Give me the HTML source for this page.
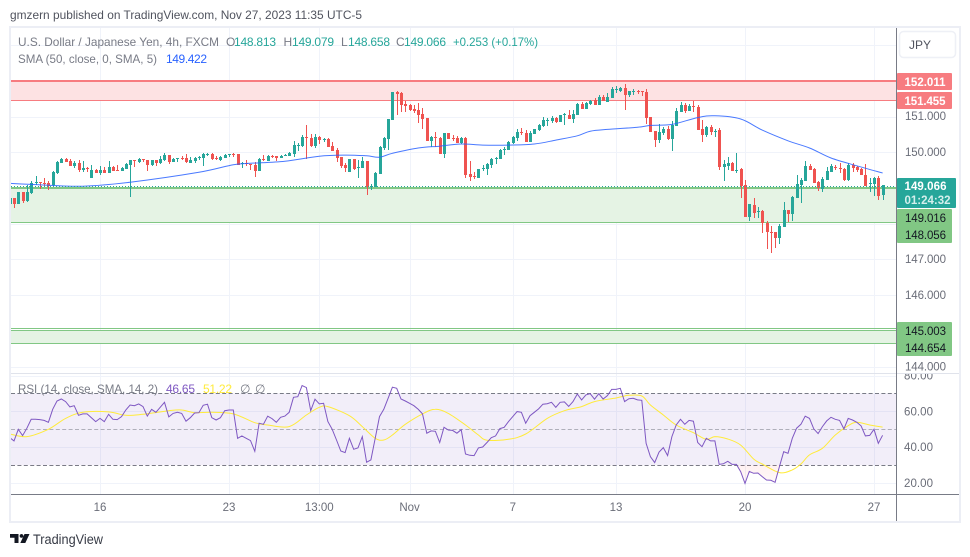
<!DOCTYPE html>
<html lang="en">
<head>
<meta charset="utf-8">
<title>USD/JPY 4h chart</title>
<style>
html,body{margin:0;padding:0;background:#fff;width:970px;height:557px;overflow:hidden}
svg{display:block;font-family:"Liberation Sans",sans-serif}
</style>
</head>
<body>
<svg id="chart" xmlns="http://www.w3.org/2000/svg" width="970" height="557" viewBox="0 0 970 557">
  <defs>
    <clipPath id="price-clip"><rect x="11" y="28" width="885.5" height="345"/></clipPath>
    <clipPath id="rsi-clip"><rect x="11" y="374" width="885.5" height="120"/></clipPath>
    <clipPath id="rsi-under-clip"><rect x="11" y="465" width="885.5" height="29"/></clipPath>
    <clipPath id="rsi-axis-clip"><rect x="897" y="374" width="60" height="120"/></clipPath>
    <clipPath id="price-axis-clip"><rect x="897" y="28" width="60" height="345"/></clipPath>
    <linearGradient id="under-grad" x1="0" y1="0" x2="0" y2="1">
      <stop offset="0" stop-color="#ff5252" stop-opacity="0.25"/>
      <stop offset="1" stop-color="#ff5252" stop-opacity="0.04"/>
    </linearGradient>
  </defs>
  <text x="10" y="19" font-size="12" fill="#50535e" textLength="352" lengthAdjust="spacingAndGlyphs">gmzern published on TradingView.com, Nov 27, 2023 11:35 UTC-5</text>
  <rect x="10" y="27" width="950" height="495" fill="#fff" stroke="#eceef5" stroke-width="2"/>
  <g id="grid"></g>
  <g id="zones"></g>
  <g id="rsi-band"></g>
  <g id="candles" clip-path="url(#price-clip)" shape-rendering="crispEdges"></g>
  <path id="sma-line" fill="none" stroke="#2962ff" stroke-width="1" clip-path="url(#price-clip)" opacity="0.85"/>
  <line id="last-price-line" x1="11" x2="896" stroke="#26a69a" stroke-width="1" stroke-dasharray="1 2"/>
  <path id="rsi-under" fill="url(#under-grad)" clip-path="url(#rsi-under-clip)"/>
  <path id="rsi-ma-line" fill="none" stroke="#ffeb3b" stroke-width="1" clip-path="url(#rsi-clip)"/>
  <polyline id="rsi-line" fill="none" stroke="#7e57c2" stroke-width="1" clip-path="url(#rsi-clip)"/>

  <rect x="11" y="373" width="948" height="1" fill="#e0e3eb"/>
  <rect x="896" y="28" width="1" height="493" fill="#787b86"/>
  <rect x="11" y="494" width="948" height="1" fill="#787b86"/>
  <g id="axis-labels" font-size="11.5" fill="#6a6d78"></g>

  <rect x="899.5" y="31.5" width="56" height="26" rx="4" fill="#fff" stroke="#eef0f6" stroke-width="1.5"/>
  <text x="909" y="49" font-size="12" fill="#50535e">JPY</text>

  <rect x="897" y="73" width="55" height="17" rx="1" fill="#f77c80"/>
  <text x="904.5" y="86" font-size="11.5" font-weight="bold" fill="#fff" textLength="41">152.011</text>
  <rect x="897" y="92" width="55" height="17" rx="1" fill="#f77c80"/>
  <text x="904.5" y="105" font-size="11.5" font-weight="bold" fill="#fff" textLength="41">151.455</text>
  <rect x="897" y="178" width="59" height="30" rx="1" fill="#26a69a"/>
  <text x="904.5" y="190" font-size="11.5" font-weight="bold" fill="#fff" textLength="42">149.066</text>
  <text x="904.5" y="204" font-size="11.5" font-weight="bold" fill="#d5efec" textLength="46">01:24:32</text>
  <rect x="897" y="209" width="55" height="34" rx="1" fill="#81c784"/>
  <text x="905" y="222" font-size="11.5" fill="#131722" textLength="41">149.016</text>
  <text x="905" y="239" font-size="11.5" fill="#131722" textLength="41">148.056</text>
  <rect x="897" y="322" width="55" height="34" rx="1" fill="#81c784"/>
  <text x="905" y="335" font-size="11.5" fill="#131722" textLength="41">145.003</text>
  <text x="905" y="352" font-size="11.5" fill="#131722" textLength="41">144.654</text>

  <g font-size="12">
    <text x="18" y="46" fill="#787b86" textLength="201" lengthAdjust="spacingAndGlyphs">U.S. Dollar / Japanese Yen, 4h, FXCM</text>
    <text x="226" y="46" fill="#787b86">O</text>
    <text x="234" y="46" fill="#26a69a" textLength="42">148.813</text>
    <text x="283.5" y="46" fill="#787b86">H</text>
    <text x="292" y="46" fill="#26a69a" textLength="42">149.079</text>
    <text x="341" y="46" fill="#787b86">L</text>
    <text x="348" y="46" fill="#26a69a" textLength="42">148.658</text>
    <text x="396" y="46" fill="#787b86">C</text>
    <text x="404" y="46" fill="#26a69a" textLength="42">149.066</text>
    <text x="453" y="46" fill="#26a69a" textLength="85" lengthAdjust="spacingAndGlyphs">+0.253 (+0.17%)</text>
    <text x="18" y="63" fill="#787b86" textLength="139" lengthAdjust="spacingAndGlyphs">SMA (50, close, 0, SMA, 5)</text>
    <text x="166" y="63" fill="#2962ff" textLength="41">149.422</text>
  </g>
  <g font-size="12">
    <text x="18" y="393" fill="#787b86" textLength="140" lengthAdjust="spacingAndGlyphs">RSI (14, close, SMA, 14, 2)</text>
    <text x="166" y="393" fill="#7e57c2" textLength="29">46.65</text>
    <text x="203" y="393" fill="#ffeb3b" textLength="29">51.22</text>
    <text x="240" y="393" fill="#787b86">∅</text>
    <text x="255" y="393" fill="#787b86">∅</text>
  </g>

  <g>
    <path d="M10 534h8.5v9h-4v-5.2h-4.500zM24.500 534h5l-4.200 9h-5zM21.500 537.800a1.900 1.900 0 1 1 .01 0z" fill="#131722"/>
    <text x="33" y="544" font-size="13.5" fill="#363a45" textLength="70" lengthAdjust="spacingAndGlyphs">TradingView</text>
  </g>
</svg>

<script>
// ---- data ----
const opens = [
148.54,148.71,148.54,148.88,148.63,148.85,149.13,149.16,149.13,149.13,
149.07,149.41,149.69,149.80,149.75,149.61,149.69,149.50,149.55,149.27,
149.50,149.41,149.50,149.41,149.58,149.50,149.47,149.52,149.64,149.78,
149.72,149.80,149.78,149.64,149.78,149.69,149.78,149.92,149.72,149.80,
149.83,149.83,149.69,149.75,149.83,149.83,149.92,149.95,149.83,149.78,
149.83,149.92,149.95,149.95,149.67,149.69,149.67,149.64,149.47,149.80,
149.75,149.89,149.89,149.83,149.89,149.89,149.95,150.17,150.17,150.42,
150.40,150.17,150.42,150.34,150.37,150.17,150.06,149.86,149.64,149.44,
149.80,149.55,149.55,149.75,149.02,149.02,149.38,150.12,150.37,150.90,
151.69,151.66,151.35,151.32,151.21,151.18,151.07,150.96,150.31,150.42,
150.40,149.95,150.54,150.40,150.40,150.26,150.40,149.38,149.33,149.27,
149.52,149.52,149.64,149.80,149.80,150.06,150.06,150.26,150.40,150.56,
150.54,150.28,150.51,150.62,150.73,150.87,150.87,150.96,150.85,151.04,
151.04,150.93,151.04,151.35,151.21,151.35,151.46,151.32,151.55,151.41,
151.52,151.74,151.72,151.80,151.60,151.69,151.72,151.72,151.69,150.99,
150.59,150.34,150.54,150.65,150.37,150.73,151.13,151.32,151.15,151.29,
151.27,150.65,150.48,150.71,150.56,150.62,149.58,149.61,149.69,149.47,
149.52,149.07,148.18,148.51,148.32,148.35,148.01,147.78,147.76,147.59,
147.92,148.37,148.26,148.71,149.07,149.19,149.61,149.52,149.16,148.96,
149.22,149.44,149.58,149.55,149.52,149.22,149.64,149.58,149.52,149.36,
149.10,149.10,149.27,148.81];
const highs = [
148.71,148.71,148.88,148.88,149.07,149.19,149.33,149.16,149.27,149.19,
149.47,149.75,149.83,149.83,149.80,149.75,149.78,149.75,149.58,149.64,
149.52,149.61,149.58,149.75,149.61,149.64,149.58,149.69,149.78,149.78,
149.83,149.80,149.78,149.78,149.78,149.89,149.97,149.92,149.83,149.83,
149.89,149.95,149.86,149.86,149.89,149.97,149.97,149.97,149.89,149.89,
149.95,149.95,149.97,149.95,149.72,149.78,149.67,149.72,149.83,149.92,
149.92,149.92,149.89,149.92,149.95,150.00,150.31,150.26,150.48,150.76,
150.51,150.51,150.45,150.40,150.40,150.28,150.12,149.86,149.69,149.80,
149.80,149.78,149.86,149.75,149.10,149.44,150.17,150.42,150.93,151.69,
151.72,151.69,151.44,151.35,151.32,151.38,151.24,150.96,150.45,150.56,
150.42,150.54,150.54,150.48,150.45,150.42,150.42,149.75,149.44,149.52,
149.64,149.69,149.83,149.86,150.09,150.14,150.31,150.45,150.65,150.68,
150.62,150.59,150.65,150.79,150.99,150.96,151.01,150.99,151.04,151.10,
151.18,151.18,151.38,151.41,151.41,151.46,151.52,151.60,151.60,151.66,
151.83,151.86,151.83,151.91,151.72,151.77,151.74,151.72,151.77,150.99,
150.59,150.79,150.71,150.73,150.87,151.24,151.41,151.38,151.35,151.44,
151.32,150.90,150.73,150.76,150.65,150.68,149.78,149.86,149.72,149.97,
149.55,149.22,148.54,148.71,148.46,148.37,148.09,147.95,147.78,147.98,
148.60,148.37,148.77,149.36,149.27,149.75,149.67,149.55,149.19,149.30,
149.58,149.67,149.64,149.69,149.55,149.69,149.69,149.61,149.55,149.67,
149.27,149.30,149.33,149.08];
const lows = [
148.54,148.43,148.54,148.57,148.60,148.82,149.07,148.96,149.02,148.93,
149.05,149.38,149.69,149.72,149.61,149.55,149.44,149.44,149.44,149.27,
149.41,149.36,149.41,149.41,149.47,149.47,149.47,149.52,148.74,149.58,
149.69,149.72,149.47,149.61,149.61,149.67,149.75,149.67,149.72,149.72,
149.78,149.69,149.69,149.69,149.78,149.61,149.89,149.78,149.78,149.75,
149.83,149.86,149.86,149.64,149.55,149.61,149.50,149.30,149.47,149.75,
149.75,149.83,149.75,149.83,149.89,149.89,149.86,150.03,150.14,149.80,
150.14,150.12,150.23,150.28,150.14,150.03,149.72,149.55,149.44,149.44,
149.50,149.27,149.55,148.79,148.93,149.02,149.38,150.06,150.06,150.90,
151.04,151.13,151.13,151.15,151.10,150.82,150.65,150.31,150.14,150.14,
149.95,149.83,150.37,150.31,150.26,150.23,149.27,149.19,149.24,149.27,
149.47,149.36,149.55,149.67,149.80,149.92,150.06,150.23,150.31,150.48,
150.28,150.28,150.51,150.59,150.71,150.73,150.82,150.82,150.85,150.76,
150.93,150.82,151.04,151.21,151.21,151.32,151.32,151.32,151.44,151.41,
151.52,151.66,151.69,151.18,151.55,151.60,151.63,151.58,150.79,150.56,
150.14,150.26,150.48,150.34,150.03,150.73,151.13,151.10,151.15,151.13,
150.62,150.28,150.42,150.48,150.42,149.50,149.19,149.50,149.47,149.41,
148.71,148.18,148.09,148.15,148.15,147.73,147.28,147.17,147.33,147.42,
147.92,148.04,148.09,148.71,148.57,149.19,149.50,149.13,148.91,148.88,
149.22,149.44,149.50,149.41,149.19,149.19,149.44,149.44,149.36,149.05,
148.88,148.77,148.65,148.66];
const closes = [
148.71,148.54,148.88,148.63,148.88,149.13,149.16,149.13,149.10,149.05,
149.44,149.72,149.80,149.72,149.61,149.69,149.50,149.55,149.52,149.50,
149.41,149.50,149.41,149.58,149.47,149.47,149.55,149.67,149.78,149.75,
149.80,149.78,149.64,149.78,149.69,149.80,149.92,149.72,149.80,149.83,
149.80,149.72,149.78,149.83,149.86,149.95,149.95,149.80,149.80,149.86,
149.92,149.95,149.92,149.64,149.69,149.67,149.64,149.47,149.80,149.78,
149.89,149.86,149.83,149.89,149.92,149.97,150.20,150.20,150.42,150.40,
150.17,150.42,150.34,150.37,150.14,150.03,149.83,149.61,149.55,149.80,
149.52,149.58,149.75,149.02,149.05,149.41,150.14,150.40,150.93,151.69,
151.63,151.32,151.29,151.18,151.15,151.04,150.93,150.31,150.42,150.40,
149.95,150.54,150.37,150.37,150.26,150.40,149.36,149.30,149.30,149.52,
149.55,149.67,149.80,149.83,150.06,150.09,150.28,150.42,150.56,150.54,
150.28,150.54,150.65,150.76,150.90,150.90,150.96,150.85,151.04,151.07,
150.93,151.07,151.35,151.21,151.38,151.44,151.32,151.55,151.44,151.55,
151.77,151.77,151.80,151.60,151.72,151.72,151.69,151.69,150.96,150.56,
150.34,150.56,150.65,150.37,150.76,151.15,151.32,151.15,151.29,151.27,
150.62,150.48,150.71,150.56,150.59,149.58,149.67,149.69,149.47,149.50,
149.05,148.18,148.54,148.29,148.35,148.01,147.76,147.73,147.59,147.95,
148.37,148.26,148.74,149.10,149.22,149.61,149.50,149.13,148.99,149.24,
149.47,149.61,149.55,149.52,149.22,149.64,149.55,149.50,149.36,149.05,
149.13,149.27,148.77,149.07];
const smaBars = [0,5,17,28,44,52,56,64,72,78,83,86,89,95,100,105,110,116,122,127,132,135,139,146,149,154,160,164,170,175,181,186,191,197,203];
const smaValues = [149.13,149.10,149.05,149.16,149.44,149.65,149.69,149.75,149.89,149.92,149.90,149.86,149.97,150.12,150.17,150.23,150.20,150.20,150.23,150.34,150.46,150.59,150.64,150.70,150.75,150.78,150.97,151.02,150.93,150.62,150.32,150.12,149.84,149.62,149.42];
const rsiValues = [
45.3,43.5,50,46.5,50.6,55.6,55.6,55.4,55.0,53.9,
61.2,65.8,66.9,65.5,62.5,63.2,57.8,58.6,58.6,56.5,
54.3,56.1,54.3,58.4,55.6,55.4,57.1,60.8,63.6,63.2,
64.2,62.7,57.4,61.2,59.5,62.3,65.1,56.9,58.9,59.5,
58.9,54.5,56.5,59.1,59.3,63.4,64.0,56.5,55.2,56.5,
60.4,60.8,60.8,45,46.3,45,43.7,37.7,53.4,52.8,
57.3,56,53.9,56.7,57.4,59.5,67.9,68.2,74.4,73.3,
60.4,66.8,64.2,64.5,54.3,50,44,37.9,37.0,45,
38.8,39.6,45.9,31.6,32.9,45,57.1,61.2,67.3,73.5,
72.9,66.9,65.8,64.5,63.2,61.2,58.6,47.8,49.1,48.9,
42.6,51.1,49.6,49.4,47.8,49.8,36.2,35.5,35.3,39.6,
40.1,42.6,45.3,46.3,50.4,51.1,54.3,57.1,59.9,59.5,
53.4,57.6,59.5,61.4,64,64.3,65.1,62.3,65.1,65.3,
62.8,65.5,69.7,66.4,69.2,69.9,66.8,69.9,66.9,68.8,
72.3,72.3,72.9,65.5,67.1,67.3,66.4,66.2,42.2,34.7,
31.4,37.2,39.8,35.3,45.9,52.4,55.6,52.8,55,54.5,
42.6,40.3,45,43.5,43.5,30.4,30.8,32.1,30.4,30.4,
26.3,19.8,26.5,25.4,25.6,23.6,21.7,21.5,20.4,29.1,
37.5,36.6,45,50.6,52.8,57.3,56.1,50.2,47.6,51.5,
54.7,56.7,55.6,55,50.2,56.1,55.2,53.9,51.9,46.3,
46.6,50,42.2,46.65];
const rsiMaBars = [0,4,9,13,17,23,27,31,37,40,43,47,52,57,60,65,69,72,74,79,82,85,87,89,92,96,99,102,106,109,111,116,120,125,129,133,136,141,144,147,149,152,155,159,162,164,167,170,173,175,179,182,184,186,189,192,195,197,200,203];
const rsiMaValues = [47.4,45.9,50,56.1,59.5,59.7,57.8,58.4,60.4,60.8,59.3,59.5,58.6,53.7,52.4,51.5,58,62.3,62.7,57.6,51.5,45,44,46.8,52.8,58.6,61.2,58.9,52.4,46.8,43.9,44.4,47.4,56.1,60.4,62.7,65.5,67.5,69,68.6,63.6,58,52.4,48.1,44.4,45.9,44.6,41.2,33.4,30.6,25.8,27.3,30.6,35.7,39.4,46.8,52,53.9,52.4,51.22];
const dateBars = [21,51,72,93,117,141,171,201];
const dateLabels = ["16","23","13:00","Nov","7","13","20","27"];
const priceTicks = [153,152,151,150,149,148,147,146,145,144];
const priceTickLabels = ["151.000","150.000","147.000","146.000","144.000"];
const priceTickLabelValues = [151,150,147,146,144];
const rsiTicks = [80,60,40,20];
const rsiTickLabels = ["80.00","60.00","40.00","20.00"];
const redZone = [152.011,151.455];
const greenZone = [149.016,148.056];
const lowerZone = [145.003,144.654];
const lowerZoneExtra = 145.06;
const rsiBounds = [70,50,30];

// ---- axis functions ----
const NS = 'http://www.w3.org/2000/svg';
const xBar = i => 9.7 + 4.3 * i;
const yPrice = p => 116.5 + (151 - p) * 35.74;
const yRsi = v => 429.3 + (50 - v) * 1.79;
const L = 11, R = 896;

function mk(tag, parent, attrs) {
  const el = document.createElementNS(NS, tag);
  for (const k in attrs) el.setAttribute(k, attrs[k]);
  parent.appendChild(el);
  return el;
}

// smooth curve through sampled points
function smooth(pts) {
  let d = 'M' + pts[0][0].toFixed(1) + ',' + pts[0][1].toFixed(1);
  for (let i = 0; i < pts.length - 1; i++) {
    const p0 = pts[Math.max(0, i - 1)], p1 = pts[i], p2 = pts[i + 1], p3 = pts[Math.min(pts.length - 1, i + 2)];
    const c1x = p1[0] + (p2[0] - p0[0]) / 6, c1y = p1[1] + (p2[1] - p0[1]) / 6;
    const c2x = p2[0] - (p3[0] - p1[0]) / 6, c2y = p2[1] - (p3[1] - p1[1]) / 6;
    d += ' C' + c1x.toFixed(1) + ',' + c1y.toFixed(1) + ' ' + c2x.toFixed(1) + ',' + c2y.toFixed(1) + ' ' + p2[0].toFixed(1) + ',' + p2[1].toFixed(1);
  }
  return d;
}

// grid
const grid = document.getElementById('grid');
priceTicks.forEach(p => {
  const el = mk('rect', grid, {x: L, y: Math.round(yPrice(p)), width: R - L, height: 1, fill: '#f0f3fa'});
  
  
});
rsiTicks.forEach(v => {
  const el = mk('rect', grid, {x: L, y: Math.round(yRsi(v)), width: R - L, height: 1, fill: '#f0f3fa'});
  
  
});
dateBars.forEach(b => {
  const el = mk('rect', grid, {x: Math.round(xBar(b)), y: 28, width: 1, height: 466, fill: '#f0f3fa'});
  
  
});

// zones
const zones = document.getElementById('zones');
function zone(vals, fill, line, name, thickTop) {
  const t = Math.floor(yPrice(vals[0])), b = Math.round(yPrice(vals[1]));
  const f = mk('rect', zones, {x: L, y: t, width: R - L, height: b - t, fill: fill});
  
  
  const a = mk('rect', zones, {x: L, y: t, width: R - L, height: thickTop, fill: line});
  
  
  const c = mk('rect', zones, {x: L, y: b, width: R - L, height: 1, fill: line});
  
  
}
zone(redZone, '#fde2e3', '#f77c80', 'supply-zone', 2);
zone(greenZone, '#e5f3e4', '#81c784', 'demand-zone', 2);
zone(lowerZone, '#e5f3e4', '#81c784', 'lower-zone', 1);
const extra = mk('rect', zones, {x: L, y: Math.floor(yPrice(lowerZoneExtra)), width: R - L, height: 1, fill: '#81c784'});



// RSI band
const band = document.getElementById('rsi-band');
const bandFill = mk('rect', band, {x: L, y: yRsi(rsiBounds[0]), width: R - L, height: yRsi(rsiBounds[2]) - yRsi(rsiBounds[0]), fill: '#7e57c2', 'fill-opacity': 0.1});


rsiBounds.forEach((v, k) => {
  const el = mk('line', band, {x1: L, x2: R, y1: Math.floor(yRsi(v)) + .5, y2: Math.floor(yRsi(v)) + .5, stroke: '#787b86', 'stroke-opacity': k === 1 ? .55 : 1, 'stroke-dasharray': '4 2.4'});
  
  
});

// candles
const candles = document.getElementById('candles');
closes.forEach((c, i) => {
  const o = opens[i], col = c >= o ? '#26a69a' : '#ef5350';
  const cx = Math.round(xBar(i));
  const g = mk('g', candles, {fill: col});
  
  
  const yh = Math.round(yPrice(highs[i])), yl = Math.round(yPrice(lows[i]));
  mk('rect', g, {x: cx, y: yh, width: 1, height: Math.max(1, yl - yh)});
  const top = Math.round(yPrice(Math.max(o, c))), bot = Math.round(yPrice(Math.min(o, c)));
  mk('rect', g, {x: cx - 1, y: top, width: 3, height: Math.max(1, bot - top)});
});

// lines
document.getElementById('sma-line').setAttribute('d', smooth(smaBars.map((b, k) => [xBar(b), yPrice(smaValues[k])])));
const rsiPts = rsiValues.map((v, i) => xBar(i).toFixed(1) + ',' + yRsi(v).toFixed(1));
document.getElementById('rsi-line').setAttribute('points', rsiPts.join(' '));
document.getElementById('rsi-ma-line').setAttribute('d', smooth(rsiMaBars.map((b, k) => [xBar(b), yRsi(rsiMaValues[k])])));
document.getElementById('rsi-under').setAttribute('d', 'M' + xBar(0) + ',' + yRsi(30) + ' L' + rsiPts.join(' L') + ' L' + xBar(rsiValues.length - 1) + ',' + yRsi(30) + 'Z');
const lastY = Math.round(yPrice(closes[closes.length - 1])) + 1.5;
const lp = document.getElementById('last-price-line');
lp.setAttribute('y1', lastY);
lp.setAttribute('y2', lastY);

// axis labels
const labels = document.getElementById('axis-labels');
priceTickLabels.forEach((t, k) => {
  const el = mk('text', labels, {x: 905, y: yPrice(priceTickLabelValues[k]) + 3.6, textLength: 41, 'clip-path': 'url(#price-axis-clip)'});
  
  
  el.textContent = t;
});
rsiTickLabels.forEach((t, k) => {
  const el = mk('text', labels, {x: 904, y: yRsi(rsiTicks[k]) + 4, textLength: 29, 'clip-path': 'url(#rsi-axis-clip)'});
  
  
  el.textContent = t;
});
dateLabels.forEach((t, k) => {
  const el = mk('text', labels, {x: xBar(dateBars[k]), y: 511, 'text-anchor': 'middle'});
  
  
  el.textContent = t;
});
</script>
</body>
</html>
